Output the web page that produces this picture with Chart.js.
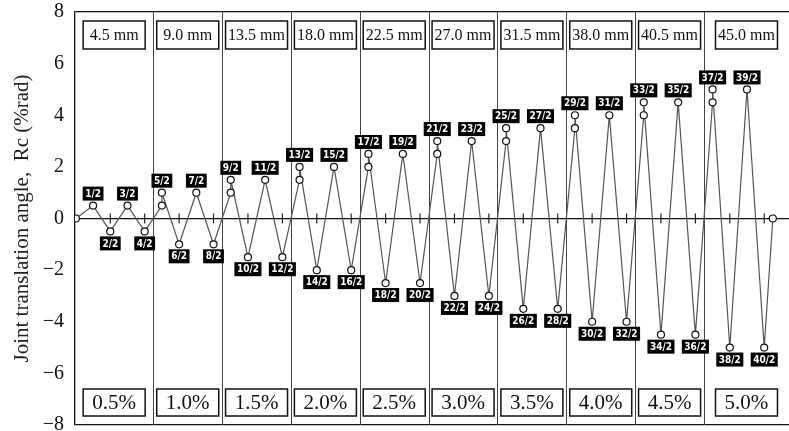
<!DOCTYPE html>
<html>
<head>
<meta charset="utf-8">
<script src="https://cdn.jsdelivr.net/npm/chart.js@4.4.1/dist/chart.umd.min.js"></script>
<style>
  html, body { margin: 0; padding: 0; background: #fff; }
  #wrap { width: 789px; height: 431px; position: relative; }
</style>
</head>
<body>
<div id="wrap"><canvas id="chart"></canvas></div>
<script>
// half-cycle step position (x) and joint translation angle Rc (%rad)
const stepX = [
  0, 1, 2, 3, 4,
  5, 5, 6, 7, 8,
  9, 9, 10, 11, 12,
  13, 13, 14, 15, 16,
  17, 17, 18, 19, 20,
  21, 21, 22, 23, 24,
  25, 25, 26, 27, 28,
  29, 29, 30, 31, 32,
  33, 33, 34, 35, 36,
  37, 37, 38, 39, 40,
  40.5
];
const angle = [
  0, 0.5, -0.5, 0.5, -0.5,
  0.5, 1.0, -1.0, 1.0, -1.0,
  1.0, 1.5, -1.5, 1.5, -1.5,
  1.5, 2.0, -2.0, 2.0, -2.0,
  2.0, 2.5, -2.5, 2.5, -2.5,
  2.5, 3.0, -3.0, 3.0, -3.0,
  3.0, 3.5, -3.5, 3.5, -3.5,
  3.5, 4.0, -4.0, 4.0, -4.0,
  4.0, 4.5, -4.5, 4.5, -4.5,
  4.5, 5.0, -5.0, 5.0, -5.0,
  0
];
const halfCycle = [
  null, '1/2', '2/2', '3/2', '4/2',
  null, '5/2', '6/2', '7/2', '8/2',
  null, '9/2', '10/2', '11/2', '12/2',
  null, '13/2', '14/2', '15/2', '16/2',
  null, '17/2', '18/2', '19/2', '20/2',
  null, '21/2', '22/2', '23/2', '24/2',
  null, '25/2', '26/2', '27/2', '28/2',
  null, '29/2', '30/2', '31/2', '32/2',
  null, '33/2', '34/2', '35/2', '36/2',
  null, '37/2', '38/2', '39/2', '40/2',
  null
];

// loading stages
const displacement = ['4.5 mm', '9.0 mm', '13.5 mm', '18.0 mm', '22.5 mm', '27.0 mm', '31.5 mm', '38.0 mm', '40.5 mm', '45.0 mm'];
const drift = ['0.5%', '1.0%', '1.5%', '2.0%', '2.5%', '3.0%', '3.5%', '4.0%', '4.5%', '5.0%'];
const X_MIN = -0.05;
const X_MAX = 41.44;
const stageEdges = [X_MIN, 4.5, 8.5, 12.5, 16.5, 20.5, 24.5, 28.5, 32.5, 36.5, X_MAX];
const axisTicks = [2, 4, 6, 8, 10, 12, 14, 16, 18, 20, 22, 24, 26, 28, 30, 32, 34, 36, 38, 40];

const serif = '"Liberation Serif", "Times New Roman", serif';

const stagePlugin = {
  id: 'stages',
  beforeDatasetsDraw(chart) {
    const { ctx, chartArea: a, scales: { x, y } } = chart;
    ctx.save();
    // stage dividers
    ctx.strokeStyle = '#444';
    ctx.lineWidth = 1;
    for (let i = 1; i < stageEdges.length - 1; i++) {
      const px = Math.round(x.getPixelForValue(stageEdges[i])) + 0.5;
      ctx.beginPath();
      ctx.moveTo(px, a.top);
      ctx.lineTo(px, a.bottom);
      ctx.stroke();
    }
    // small ticks on the zero line
    const y0 = y.getPixelForValue(0);
    ctx.strokeStyle = '#222';
    ctx.lineWidth = 1.2;
    axisTicks.forEach(v => {
      const px = x.getPixelForValue(v);
      ctx.beginPath();
      ctx.moveTo(px, y0 - 5);
      ctx.lineTo(px, y0 + 5);
      ctx.stroke();
    });
    ctx.restore();
  },
  afterDatasetsDraw(chart) {
    const { ctx, chartArea: a, scales: { x, y } } = chart;
    ctx.save();
    // stage boxes, top and bottom
    for (let i = 0; i < displacement.length; i++) {
      const cx = (x.getPixelForValue(stageEdges[i]) + x.getPixelForValue(stageEdges[i + 1])) / 2;
      const w = 62;
      ctx.fillStyle = '#fff';
      ctx.strokeStyle = '#111';
      ctx.lineWidth = 1.5;
      ctx.fillRect(cx - w / 2, a.top + 9, w, 28);
      ctx.strokeRect(cx - w / 2, a.top + 9, w, 28);
      ctx.fillRect(cx - w / 2, a.bottom - 36, w, 27);
      ctx.strokeRect(cx - w / 2, a.bottom - 36, w, 27);
      ctx.fillStyle = '#111';
      ctx.textAlign = 'center';
      ctx.textBaseline = 'middle';
      ctx.font = '16px ' + serif;
      ctx.fillText(displacement[i], cx, a.top + 24);
      ctx.font = '21px ' + serif;
      ctx.fillText(drift[i], cx, a.bottom - 21.5);
    }
    // half-cycle tags
    const meta = chart.getDatasetMeta(0);
    ctx.font = 'bold 10px "DejaVu Sans Condensed", "DejaVu Sans", sans-serif';
    meta.data.forEach((pt, i) => {
      const tag = halfCycle[i];
      if (!tag) return;
      const tw = ctx.measureText(tag).width + 5;
      const h = 14;
      const up = angle[i] > 0;
      const top = up ? pt.y - 5 - h : pt.y + 5;
      ctx.fillStyle = '#000';
      ctx.fillRect(pt.x - tw / 2, top, tw, h);
      ctx.fillStyle = '#fff';
      ctx.fillText(tag, pt.x, top + h / 2 + 0.5);
    });
    ctx.restore();
  }
};

new Chart(document.getElementById('chart'), {
  type: 'line',
  data: {
    datasets: [{
      data: stepX.map((v, i) => ({ x: v, y: angle[i] })),
      borderColor: '#555',
      borderWidth: 1.2,
      pointRadius: 3.5,
      pointBorderColor: '#111',
      pointBorderWidth: 1.2,
      pointBackgroundColor: '#fff',
      tension: 0,
    }],
  },
  options: {
    animation: false,
    responsive: true,
    maintainAspectRatio: false,
    layout: { autoPadding: false, padding: { top: 12, bottom: 6, left: 0, right: 0 } },
    plugins: {
      legend: { display: false },
      tooltip: { enabled: false },
    },
    scales: {
      x: {
        type: 'linear',
        display: false,
        min: X_MIN,
        max: X_MAX,
      },
      y: {
        min: -8,
        max: 8,
        afterFit(scale) {
          scale.width = 75;
          scale.paddingTop = 0;
          scale.paddingBottom = 0;
        },
        ticks: {
          stepSize: 2,
          padding: 11,
          color: '#111',
          font: { family: serif, size: 20 },
          callback: v => String(v).replace('-', '\u2212'),
        },
        grid: {
          drawTicks: false,
          color: ctx => (ctx.tick && [0, 8, -8].includes(ctx.tick.value)) ? '#111' : 'rgba(0,0,0,0)',
          lineWidth: 1.3,
        },
        border: { display: true, color: '#111', width: 1.3 },
        title: {
          display: true,
          text: 'Joint translation angle,  Rc (%rad)',
          color: '#222',
          font: { family: serif, size: 21 },
          padding: { top: 10, bottom: 0 },
        },
      },
    },
  },
  plugins: [stagePlugin],
});
</script>
</body>
</html>
